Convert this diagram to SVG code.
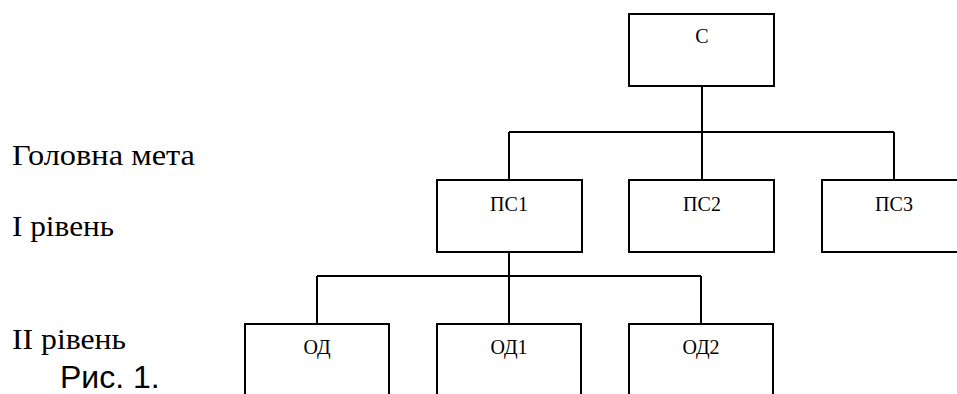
<svg xmlns="http://www.w3.org/2000/svg" width="957" height="394" viewBox="0 0 957 394">
<style>
.box{fill:#fff;stroke:#000;stroke-width:2}
.ln{fill:none;stroke:#000;stroke-width:2}
.bt{font-family:"Liberation Serif","Times New Roman",serif;font-size:20px;text-anchor:middle;fill:#000}
.lb{font-family:"Liberation Serif","Times New Roman",serif;font-size:29px;fill:#000}
.cap{font-family:"Liberation Sans",Arial,sans-serif;font-size:32px;fill:#000}
</style>
<rect width="957" height="394" fill="#fff"/>
<g id="connectors">
<path class="ln" d="M702 86V132M509 132H894M509 132V180M702 132V180M894 132V180"/>
<path class="ln" d="M509 252V276M317 276H701M317 276V324M509 276V324M701 276V324"/>
</g>
<g id="node-c"><rect class="box" x="629" y="14" width="145" height="72"/><text class="bt" x="702" y="43">С</text></g>
<g id="node-ps1"><rect class="box" x="437" y="180" width="145" height="72"/><text class="bt" x="509" y="211">ПС1</text></g>
<g id="node-ps2"><rect class="box" x="629" y="180" width="145" height="72"/><text class="bt" x="702" y="211">ПС2</text></g>
<g id="node-ps3"><rect class="box" x="822" y="180" width="145" height="72"/><text class="bt" x="894" y="211">ПС3</text></g>
<g id="node-od"><rect class="box" x="245" y="324" width="144" height="80"/><text class="bt" x="317" y="354">ОД</text></g>
<g id="node-od1"><rect class="box" x="437" y="324" width="144" height="80"/><text class="bt" x="509" y="354">ОД1</text></g>
<g id="node-od2"><rect class="box" x="629" y="324" width="144" height="80"/><text class="bt" x="701" y="354">ОД2</text></g>
<g id="labels">
<text class="lb" x="12" y="165" textLength="183" lengthAdjust="spacingAndGlyphs">Головна мета</text>
<text class="lb" x="12" y="236" textLength="102" lengthAdjust="spacingAndGlyphs">I рівень</text>
<text class="lb" x="12" y="349" textLength="114" lengthAdjust="spacingAndGlyphs">II рівень</text>
<text class="cap" x="60" y="388">Рис. 1.</text>
</g>
</svg>
